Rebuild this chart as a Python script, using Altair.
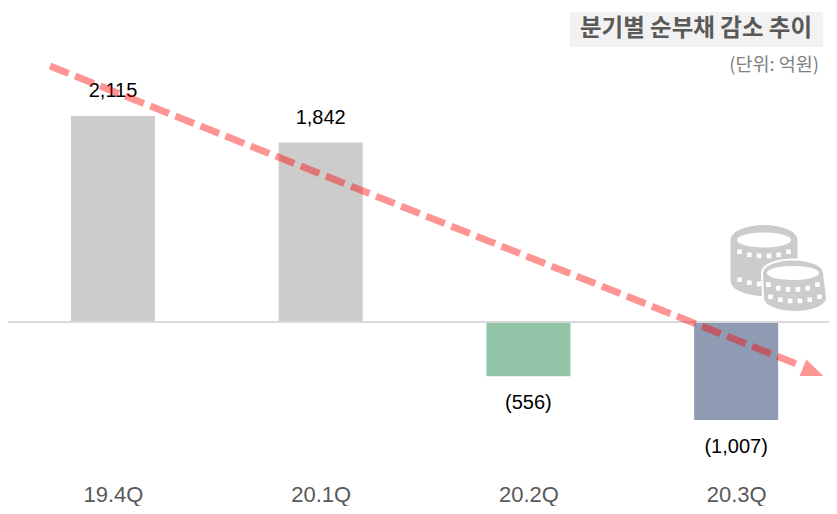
import json
import math
import altair as alt
import pandas as pd

quarters = ["19.4Q", "20.1Q", "20.2Q", "20.3Q"]
positions = [0, 1, 2, 3]
values = [2115, 1842, -556, -1007]
labels = ["2,115", "1,842", "(556)", "(1,007)"]
bar_colors = ["#cccccc", "#cccccc", "#92c5a8", "#8e9bb3"]
trend_x = [-0.303, 3.318]
trend_y = [2628, -454]
tip_x = [3.42]
tip_y = [-554]
title_text = "분기별 순부채 감소 추이"
unit_text = "(단위: 억원)"

FONT = "Liberation Sans"
KR = "Noto Sans CJK KR"

df = pd.DataFrame({"i": positions, "q": quarters, "v": values, "label": labels, "color": bar_colors})
trend = pd.DataFrame({"x": trend_x, "y": trend_y})
tip = pd.DataFrame({"x": tip_x, "y": tip_y})

W, H = 821, 470
y_scale = alt.Scale(domain=[-1602, 3224], nice=False, zero=False, padding=0)
x_scale = alt.Scale(domain=[-0.5055, 3.447], nice=False, zero=False, padding=0)
x_axis = alt.Axis(title=None, domain=False, ticks=False, labelAngle=0, labelPadding=6,
                  values=positions, labelExpr=f"{json.dumps(quarters)}[datum.value]",
                  labelFont=FONT, labelFontSize=22, labelColor="#595959", grid=False,
                  labelOverlap=False, labelFlush=False)

xb = alt.X("i:Q", scale=x_scale, axis=x_axis)
yq = alt.Y("v:Q", scale=y_scale, axis=None)

bars = alt.Chart(df).mark_bar(size=84, orient="vertical").encode(
    x=xb, y=yq, y2=alt.datum(0), color=alt.Color("color:N", scale=None))

zero = alt.Chart(pd.DataFrame({"v": [0]})).mark_rule(color="#d9d9d9", strokeWidth=2).encode(
    y=alt.Y("v:Q", scale=y_scale, axis=None), x=alt.value(0), x2=alt.value(W))

txt = dict(font=FONT, fontSize=20, color="#000000", baseline="middle", align="center")
pos = alt.Chart(df[df.v > 0]).mark_text(dy=-25, **txt).encode(x=xb, y=yq, text="label:N")
neg = alt.Chart(df[df.v < 0]).mark_text(dy=27, **txt).encode(x=xb, y=yq, text="label:N")

x_t = alt.X("x:Q", scale=x_scale, axis=x_axis)
y_t = alt.Y("y:Q", scale=y_scale, axis=None)
line = alt.Chart(trend).mark_line(color="#ff0000", opacity=0.42, strokeWidth=7,
                                  strokeDash=[20, 7]).encode(x=x_t, y=y_t)
head = alt.Chart(tip).mark_point(shape="M0,0 L-22,-9 L-22,9 Z", size=4, filled=True, color="#ff0000",
                                 opacity=0.42, angle=21.85, strokeWidth=0).encode(x=x_t, y=y_t)


def stack(cx, cy, rx, ry, cx2, cy2, rx2, ry2):
    return (f"M{cx-rx},{cy} A{rx},{ry} 0 0 1 {cx+rx},{cy} L{cx2+rx2},{cy2} "
            f"A{rx2},{ry2} 0 0 1 {cx2-rx2},{cy2} Z ")


def hole(cx, cy, rx, ry):
    return f"M{cx-rx},{cy} A{rx},{ry} 0 0 1 {cx+rx},{cy} A{rx},{ry} 0 0 1 {cx-rx},{cy} Z "


def notches(cx, cy, rx, ry, n=6, step=9.8, s=4.6):
    out = ""
    for i in range(n):
        dx = (i - (n - 1) / 2) * step
        y = cy + ry * math.sqrt(max(0, 1 - (dx / rx) ** 2))
        x0, y0 = cx + dx - s / 2, y - s / 2
        out += f"M{x0:.1f},{y0:.1f} L{x0+s:.1f},{y0:.1f} L{x0+s:.1f},{y0+s:.1f} L{x0:.1f},{y0+s:.1f} Z "
    return out


back_sil = stack(-14, -30, 33.5, 15, -14, 11, 33.5, 15)
back_white = (hole(-14, -30, 27, 7.5) + notches(-14, -24, 30, 10)
              + notches(-14, 4, 30, 10))
front_sil = stack(15, 3, 31, 13.5, 17, 28, 32, 14)
front_white = (hole(15, 3, 26, 7) + notches(15, 10, 28, 9.5) + notches(17, 22, 29, 9))

coin_base = pd.DataFrame({"a": [0]})
coin_pos = dict(x=alt.value(770), y=alt.value(262))


def glyph(shape, fill, stroke=None, sw=0):
    kw = dict(stroke=stroke) if stroke else {}
    return alt.Chart(coin_base).mark_point(shape=shape, size=4, filled=True, fill=fill, strokeWidth=sw,
                                           opacity=1, **kw).encode(**coin_pos)


coins = [glyph(back_sil, "#cccccc"), glyph(back_white, "#ffffff"),
         glyph(front_sil, "#cccccc", "#ffffff", 2), glyph(front_white, "#ffffff")]

title_bg = alt.Chart(coin_base).mark_rect(color="#f2f2f2").encode(
    x=alt.value(562), x2=alt.value(815), y=alt.value(4), y2=alt.value(39))
title_t = alt.Chart(pd.DataFrame({"t": [title_text]})).mark_text(
    font=KR, fontSize=23.5, fontWeight="bold", color="#595959", align="center", baseline="middle"
).encode(x=alt.value(688), y=alt.value(21), text="t:N")
unit_t = alt.Chart(pd.DataFrame({"t": [unit_text]})).mark_text(
    font=KR, fontSize=18.5, color="#7f7f7f", align="right", baseline="middle"
).encode(x=alt.value(811), y=alt.value(57), text="t:N")

chart = (
    alt.layer(bars, zero, pos, neg, *coins, title_bg, title_t, unit_t, line, head)
    .properties(width=W, height=H, background="white",
                autosize=alt.AutoSizeParams(type="none"),
                padding={"left": 0, "top": 0, "right": 0, "bottom": 28})
    .configure_view(strokeWidth=0)
)
chart.save("out.html", embed_options={"renderer": "svg", "actions": False})
